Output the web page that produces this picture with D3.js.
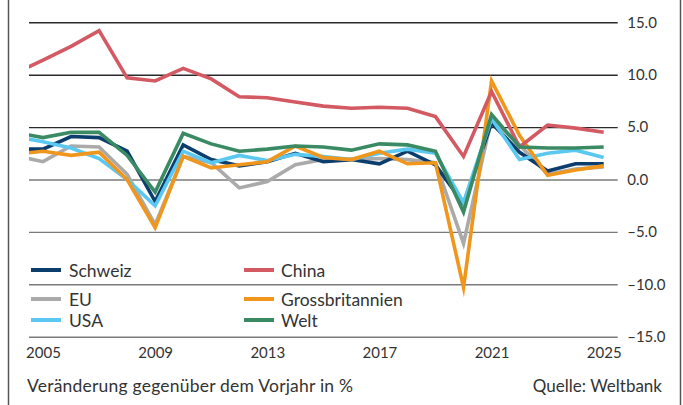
<!DOCTYPE html>
<html>
<head>
<meta charset="utf-8">
<script src="https://cdn.jsdelivr.net/npm/d3@7"></script>
<style>
  html, body { margin: 0; padding: 0; background: #fff; }
  svg { display: block; font-family: Lato, "Open Sans", sans-serif; }
</style>
</head>
<body>
<svg id="chart" width="683" height="405"></svg>
<script>
const years = d3.range(2004, 2026);
const schweiz = [2.9, 2.9, 4.1, 4.0, 2.7, -2.1, 3.3, 1.9, 1.3, 1.7, 2.5, 1.7, 1.9, 1.5, 2.7, 1.4, -2.3, 5.4, 2.6, 0.8, 1.5, 1.5];
const china   = [10.1, 11.4, 12.7, 14.2, 9.7, 9.4, 10.6, 9.6, 7.9, 7.8, 7.4, 7.0, 6.8, 6.9, 6.8, 6.0, 2.2, 8.4, 3.1, 5.2, 4.9, 4.5];
const eu      = [2.3, 1.7, 3.2, 3.1, 0.5, -4.3, 2.2, 1.6, -0.8, -0.2, 1.4, 1.9, 1.9, 2.0, 1.9, 1.6, -6.1, 5.8, 3.3, 0.5, 1.0, 1.2];
const gb      = [2.4, 2.7, 2.3, 2.6, 0.0, -4.6, 2.2, 1.1, 1.4, 1.7, 3.2, 2.1, 1.9, 2.7, 1.5, 1.6, -10.3, 9.4, 4.2, 0.4, 0.9, 1.3];
const usa     = [4.1, 3.6, 3.0, 2.0, 0.0, -2.5, 2.7, 1.6, 2.3, 1.8, 2.4, 2.2, 1.9, 2.5, 2.9, 2.5, -2.2, 5.8, 1.9, 2.5, 2.8, 2.1];
const welt    = [4.5, 4.0, 4.5, 4.5, 2.3, -1.2, 4.4, 3.4, 2.7, 2.9, 3.2, 3.1, 2.8, 3.4, 3.3, 2.7, -3.1, 6.2, 3.1, 3.0, 3.0, 3.1];

const seriesNames = ["Schweiz", "China", "EU", "Grossbritannien", "USA", "Welt"];
const seriesColors = ["#0b3e6c", "#d35963", "#aaaaaa", "#f0961c", "#5bc8f1", "#3a8b63"];
const seriesValues = [schweiz, china, eu, gb, usa, welt];
const drawOrder = ["EU", "Schweiz", "USA", "Grossbritannien", "China", "Welt"];

const yTicks = [15, 10, 5, 0, -5, -10, -15];
const xTicks = [2005, 2009, 2013, 2017, 2021, 2025];
const footLeft = "Veränderung gegenüber dem Vorjahr in %";
const footRight = "Quelle: Weltbank";

const svg = d3.select("#chart");
const x = d3.scaleLinear().domain([2004.5, 2025.5]).range([29, 617.7]);
const y = d3.scaleLinear().domain([-15, 15]).range([336.7, 22.3]);

// frame
svg.append("line").attr("x1", 8.5).attr("x2", 8.5).attr("y1", 0).attr("y2", 405)
  .attr("stroke", "#555").attr("stroke-width", 1.5);
svg.append("line").attr("x1", 680.5).attr("x2", 680.5).attr("y1", 0).attr("y2", 405)
  .attr("stroke", "#555").attr("stroke-width", 1.5);

// y axis with gridlines
const fmt = d => (d < 0 ? "\u2013" : "") + Math.abs(d).toFixed(1);
const yAxis = svg.append("g").attr("transform", `translate(${x.range()[1]},0)`)
  .call(d3.axisRight(y).tickValues(yTicks).tickSize(-(x.range()[1] - x.range()[0])).tickPadding(9.5).tickFormat(fmt));
yAxis.select(".domain").remove();
yAxis.selectAll(".tick line")
  .attr("stroke", d => d > 0 ? "#2a2a2a" : "#7a7a7a")
  .attr("stroke-width", 1.4);
yAxis.selectAll(".tick text")
  .attr("fill", "#333").style("font-size", "15px").style("font-family", "Lato, sans-serif");

// x axis
const xAxis = svg.append("g").attr("transform", `translate(0,${y(-15)})`)
  .call(d3.axisBottom(x).tickValues(xTicks).tickSize(0).tickPadding(10.5).tickFormat(d3.format("d")));
xAxis.select(".domain").remove();
xAxis.selectAll(".tick text")
  .attr("fill", "#333").style("font-size", "15px").style("font-family", "Lato, sans-serif");

// clip
svg.append("clipPath").attr("id", "plotclip").append("rect")
  .attr("x", x.range()[0]).attr("y", 0).attr("width", x.range()[1] - x.range()[0]).attr("height", 405);

const line = d3.line().x((d, i) => x(years[i])).y(d => y(d));
const gLines = svg.append("g").attr("clip-path", "url(#plotclip)");
drawOrder.forEach(name => {
  const i = seriesNames.indexOf(name);
  gLines.append("path")
    .datum(seriesValues[i])
    .attr("d", line)
    .attr("fill", "none")
    .attr("stroke", seriesColors[i])
    .attr("stroke-width", 3.6)
    .attr("stroke-linejoin", "miter")
    .attr("stroke-miterlimit", 6);
});

// legend
const legendPos = [
  { sx: 31, tx: 69, sy: 270, ty: 276.5 },
  { sx: 244, tx: 281, sy: 270, ty: 276.5 },
  { sx: 31, tx: 69, sy: 299, ty: 305.5 },
  { sx: 244, tx: 281, sy: 299, ty: 305.5 },
  { sx: 31, tx: 69, sy: 320, ty: 326.5 },
  { sx: 244, tx: 281, sy: 320, ty: 326.5 }
];
const legend = svg.append("g");
seriesNames.forEach((name, i) => {
  const p = legendPos[i];
  legend.append("line").attr("x1", p.sx).attr("x2", p.sx + 30)
    .attr("y1", p.sy).attr("y2", p.sy)
    .attr("stroke", seriesColors[i]).attr("stroke-width", 4);
  legend.append("text").attr("x", p.tx).attr("y", p.ty)
    .attr("fill", "#333").style("font-size", "17.5px").text(name);
});

// footer
svg.append("text").attr("x", 27).attr("y", 392).attr("fill", "#333")
  .attr("textLength", 326).attr("lengthAdjust", "spacing")
  .style("font-size", "17.5px").text(footLeft);
svg.append("text").attr("x", 662).attr("y", 392).attr("text-anchor", "end").attr("fill", "#333")
  .style("font-size", "17px").text(footRight);
</script>
</body>
</html>
